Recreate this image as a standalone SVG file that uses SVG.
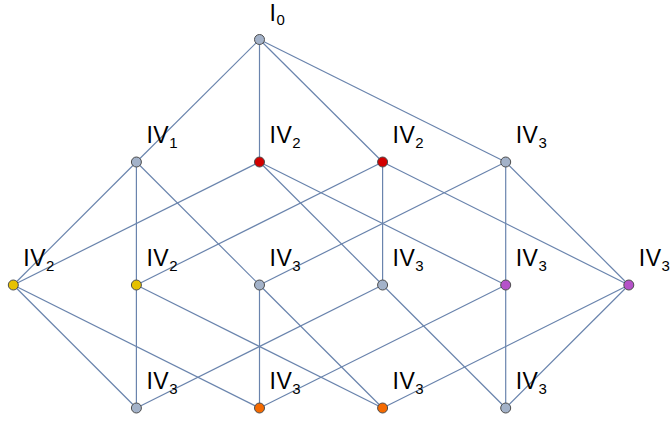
<svg xmlns="http://www.w3.org/2000/svg" width="671" height="422" viewBox="0 0 671 422">
<style>
.e{stroke:#6a84ad;stroke-width:1.2;fill:none}
.n{stroke:#4d4d4d;stroke-width:1}
.g{fill:#a3b2c9}.r{fill:#d20000}.y{fill:#e6c100}.p{fill:#b552c9}.o{fill:#f56a00}
text{font-family:"Liberation Sans",Arial,sans-serif;font-size:23px;fill:#000;letter-spacing:0.5px}
.s{font-size:15px}
</style>
<rect width="671" height="422" fill="#fff"/>
<g id="edges" class="e">
<line x1="259.5" y1="39.5" x2="136.4" y2="162"/>
<line x1="259.5" y1="39.5" x2="259.5" y2="162"/>
<line x1="259.5" y1="39.5" x2="382.6" y2="162"/>
<line x1="259.5" y1="39.5" x2="505.7" y2="162"/>
<line x1="136.4" y1="162" x2="13.3" y2="285"/>
<line x1="136.4" y1="162" x2="136.4" y2="285"/>
<line x1="136.4" y1="162" x2="259.5" y2="285"/>
<line x1="259.5" y1="162" x2="13.3" y2="285"/>
<line x1="259.5" y1="162" x2="382.6" y2="285"/>
<line x1="259.5" y1="162" x2="505.7" y2="285"/>
<line x1="382.6" y1="162" x2="136.4" y2="285"/>
<line x1="382.6" y1="162" x2="382.6" y2="285"/>
<line x1="382.6" y1="162" x2="628.8" y2="285"/>
<line x1="505.7" y1="162" x2="259.5" y2="285"/>
<line x1="505.7" y1="162" x2="505.7" y2="285"/>
<line x1="505.7" y1="162" x2="628.8" y2="285"/>
<line x1="13.3" y1="285" x2="136.4" y2="408"/>
<line x1="13.3" y1="285" x2="259.5" y2="408"/>
<line x1="136.4" y1="285" x2="136.4" y2="408"/>
<line x1="136.4" y1="285" x2="382.6" y2="408"/>
<line x1="259.5" y1="285" x2="259.5" y2="408"/>
<line x1="259.5" y1="285" x2="382.6" y2="408"/>
<line x1="382.6" y1="285" x2="136.4" y2="408"/>
<line x1="382.6" y1="285" x2="505.7" y2="408"/>
<line x1="505.7" y1="285" x2="259.5" y2="408"/>
<line x1="505.7" y1="285" x2="505.7" y2="408"/>
<line x1="628.8" y1="285" x2="382.6" y2="408"/>
<line x1="628.8" y1="285" x2="505.7" y2="408"/>
</g>
<g id="T"><circle class="n g" cx="259.5" cy="39.5" r="5"/><text x="269.5" y="20.5">I<tspan class="s" dy="4.5">0</tspan></text></g>
<g id="A"><circle class="n g" cx="136.4" cy="162" r="5"/><text x="146.4" y="143">IV<tspan class="s" dy="4.5">1</tspan></text></g>
<g id="B"><circle class="n r" cx="259.5" cy="162" r="5"/><text x="269.5" y="143">IV<tspan class="s" dy="4.5">2</tspan></text></g>
<g id="C"><circle class="n r" cx="382.6" cy="162" r="5"/><text x="392.6" y="143">IV<tspan class="s" dy="4.5">2</tspan></text></g>
<g id="D"><circle class="n g" cx="505.7" cy="162" r="5"/><text x="515.7" y="143">IV<tspan class="s" dy="4.5">3</tspan></text></g>
<g id="P0"><circle class="n y" cx="13.3" cy="285" r="5"/><text x="23.3" y="266">IV<tspan class="s" dy="4.5">2</tspan></text></g>
<g id="P1"><circle class="n y" cx="136.4" cy="285" r="5"/><text x="146.4" y="266">IV<tspan class="s" dy="4.5">2</tspan></text></g>
<g id="P2"><circle class="n g" cx="259.5" cy="285" r="5"/><text x="269.5" y="266">IV<tspan class="s" dy="4.5">3</tspan></text></g>
<g id="P3"><circle class="n g" cx="382.6" cy="285" r="5"/><text x="392.6" y="266">IV<tspan class="s" dy="4.5">3</tspan></text></g>
<g id="P4"><circle class="n p" cx="505.7" cy="285" r="5"/><text x="515.7" y="266">IV<tspan class="s" dy="4.5">3</tspan></text></g>
<g id="P5"><circle class="n p" cx="628.8" cy="285" r="5"/><text x="638.8" y="266">IV<tspan class="s" dy="4.5">3</tspan></text></g>
<g id="Q1"><circle class="n g" cx="136.4" cy="408" r="5"/><text x="146.4" y="389">IV<tspan class="s" dy="4.5">3</tspan></text></g>
<g id="Q2"><circle class="n o" cx="259.5" cy="408" r="5"/><text x="269.5" y="389">IV<tspan class="s" dy="4.5">3</tspan></text></g>
<g id="Q3"><circle class="n o" cx="382.6" cy="408" r="5"/><text x="392.6" y="389">IV<tspan class="s" dy="4.5">3</tspan></text></g>
<g id="Q4"><circle class="n g" cx="505.7" cy="408" r="5"/><text x="515.7" y="389">IV<tspan class="s" dy="4.5">3</tspan></text></g>
</svg>
